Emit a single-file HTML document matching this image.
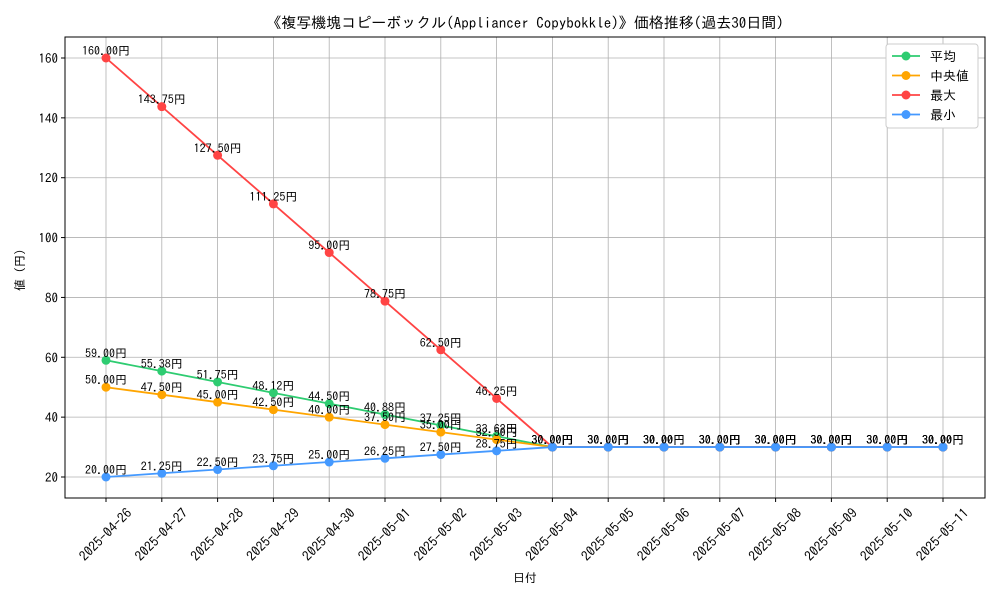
<!DOCTYPE html>
<html><head><meta charset="utf-8"><style>
body{margin:0;background:#fff}
svg{font-family:"IPAGothic","Liberation Sans","Noto Sans CJK JP",sans-serif}
</style></head><body>
<svg id="c" width="1000" height="600" xmlns="http://www.w3.org/2000/svg">
<rect width="1000" height="600" fill="#fff"/>
<text x="525" y="28" text-anchor="middle" font-size="15">《複写機塊コピーボックル(Appliancer Copybokkle)》価格推移(過去30日間)</text>
<g id="grid"></g><g id="series"></g><g id="axes"></g>
<text x="525" y="582" text-anchor="middle" font-size="12">日付</text>
<text transform="translate(24,270) rotate(-90)" text-anchor="middle" font-size="12">値 (円)</text>
<g id="legend"></g>
</svg>
<script>
const dates=["2025-04-26","2025-04-27","2025-04-28","2025-04-29","2025-04-30","2025-05-01","2025-05-02","2025-05-03","2025-05-04","2025-05-05","2025-05-06","2025-05-07","2025-05-08","2025-05-09","2025-05-10","2025-05-11"];
const avgVals=[59,55.38,51.75,48.12,44.5,40.88,37.25,33.62,30,30,30,30,30,30,30,30];
const medVals=[50,47.5,45,42.5,40,37.5,35,32.5,30,30,30,30,30,30,30,30];
const maxVals=[160,143.75,127.5,111.25,95,78.75,62.5,46.25,30,30,30,30,30,30,30,30];
const minVals=[20,21.25,22.5,23.75,25,26.25,27.5,28.75,30,30,30,30,30,30,30,30];
const yTicks=[20,40,60,80,100,120,140,160];
const seriesNames=["平均","中央値","最大","最小"];
const NS="http://www.w3.org/2000/svg";
const L=65,R=985,T=37,B=498;
const x=i=>106+i*(943-106)/(dates.length-1);
const y=v=>477-(v-20)*(477-58)/140;
function mk(tag,attrs,parent,txt){const e=document.createElementNS(NS,tag);for(const k in attrs)e.setAttribute(k,attrs[k]);if(txt!=null)e.textContent=txt;parent.appendChild(e);return e;}
const grid=document.getElementById('grid'),axes=document.getElementById('axes'),ser=document.getElementById('series'),leg=document.getElementById('legend');
dates.forEach((d,i)=>{
 const g=mk('line',{x1:x(i),x2:x(i),y1:T,y2:B,stroke:'#b0b0b0','stroke-width':0.8},grid);
 
 
 mk('line',{x1:x(i),x2:x(i),y1:B,y2:B+4,stroke:'#000'},axes);
 const cy=535;
 const t=mk('text',{x:x(i),y:cy+4,'text-anchor':'middle','font-size':13.5,transform:`rotate(-45 ${x(i)} ${cy})`},axes,d);
 
 
});
yTicks.forEach(v=>{
 const g=mk('line',{x1:L,x2:R,y1:y(v),y2:y(v),stroke:'#b0b0b0','stroke-width':0.8},grid);
 
 
 mk('line',{x1:L-4,x2:L,y1:y(v),y2:y(v),stroke:'#000'},axes);
 const t=mk('text',{x:L-7,y:y(v)+5,'text-anchor':'end','font-size':13},axes,String(v));
 
 
});
const fr=mk('rect',{x:L,y:T,width:R-L,height:B-T,fill:'none',stroke:'#000','stroke-width':1},axes);


const all=[[avgVals,'#2ecc71','avg'],[medVals,'#ffa500','median'],[maxVals,'#ff4444','max'],[minVals,'#4499ff','min']];
all.forEach(([vals,col,key])=>{
 const p=mk('polyline',{points:vals.map((v,i)=>x(i)+','+y(v)).join(' '),fill:'none',stroke:col,'stroke-width':1.8},ser);
 
 
 vals.forEach((v,i)=>{
  const c=mk('circle',{cx:x(i),cy:y(v),r:4.5,fill:col},ser);
  
  
  const t=mk('text',{x:x(i),y:y(v)-3,'text-anchor':'middle','font-size':12},ser,v.toFixed(2)+'円');
  
  
 });
});
const lb=mk('rect',{x:886,y:44,width:92,height:84,fill:'#fff',stroke:'#ccc',rx:3},leg);


all.forEach(([v,col,key],k)=>{
 const yy=56+k*19.5;
 const g=mk('g',{},leg);
 
 
 mk('line',{x1:892,x2:920,y1:yy,y2:yy,stroke:col,'stroke-width':1.8},g);
 mk('circle',{cx:906,cy:yy,r:4.5,fill:col},g);
 mk('text',{x:930,y:yy+5,'font-size':13},g,seriesNames[k]);
});
</script>
</body></html>
